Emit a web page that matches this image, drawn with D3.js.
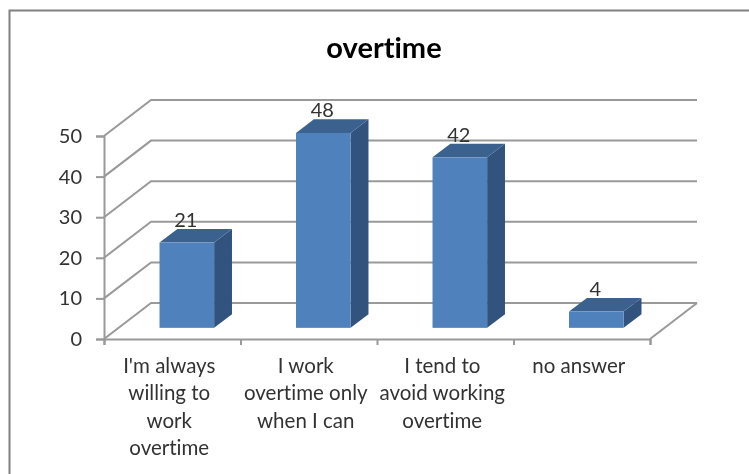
<!DOCTYPE html>
<html>
<head>
<meta charset="utf-8">
<script src="https://cdn.jsdelivr.net/npm/d3@7"></script>
<style>
  html, body { margin: 0; padding: 0; background: #fff; }
  svg { display: block; }
  text { font-family: Lato, "Noto Sans", sans-serif; fill: #333; font-variant-ligatures: none; }
</style>
</head>
<body>
<div id="chart"></div>
<script>
// Data
const categories = ["I'm always willing to work overtime", "I work overtime only when I can", "I tend to avoid working overtime", "no answer"];
const categoryLines = [
  ["I'm always", "willing to", "work", "overtime"],
  ["I work", "overtime only", "when I can"],
  ["I tend to", "avoid working", "overtime"],
  ["no answer"]
];
const values = [21, 48, 42, 4];
const yTicks = [0, 10, 20, 30, 40, 50];
const title = "overtime";

function draw() {
  // Dimensions
  const dimensions = {
    width: 749,
    height: 474,
    left: 104,
    right: 650,
    bottom: 339,
    top: 136,
    depthX: 47,
    depthY: -36,
    barDepth: 0.38
  };

  const svg = d3.select('#chart')
    .append("svg")
    .attr("width", dimensions.width)
    .attr("height", dimensions.height)

  svg.append("defs").append("filter")
    .attr("id", "soft")
    .append("feGaussianBlur")
    .attr("stdDeviation", 0.45)

  const ctr = svg.append("g").attr("filter", "url(#soft)")

  // Frame, open at the right and bottom like the cropped original
  ctr.append("path")
    .attr("d", `M9.5,${dimensions.height} V10.5 H${dimensions.width}`)
    .attr("fill", "none")
    .attr("stroke", "#808080")
    .attr("stroke-width", 2)

  // Scales
  const xScale = d3.scaleBand()
    .domain(categories)
    .range([dimensions.left, dimensions.right])
    .paddingInner(0.6)
    .paddingOuter(0.3)

  const yScale = d3.scaleLinear()
    .domain([0, 50])
    .range([dimensions.bottom, dimensions.top])

  // depth runs 0 at the front of the floor to 1 at the back wall
  const depthX = d3.scaleLinear().domain([0, 1]).range([0, dimensions.depthX])
  const depthY = d3.scaleLinear().domain([0, 1]).range([0, dimensions.depthY])

  const gridColor = "#999999"

  // Walls and floor
  ctr.append("g")
    .selectAll("path")
    .data(yTicks)
    .join("path")
    .attr("d", d => {
      const y = yScale(d)
      return `M${dimensions.left},${y} L${dimensions.left + depthX(1)},${y + depthY(1)} H${dimensions.right + depthX(1)}`
    })
    .attr("fill", "none")
    .attr("stroke", gridColor)
    .attr("stroke-width", 2)

  ctr.append("path")
    .attr("d", `M${dimensions.right},${dimensions.bottom} L${dimensions.right + depthX(1)},${dimensions.bottom + depthY(1)}`)
    .attr("stroke", gridColor)
    .attr("stroke-width", 2)

  // Axes
  const yAxis = d3.axisLeft(yScale)
    .tickValues(yTicks)
    .tickSize(8)
    .tickPadding(14)

  const yAxisGroup = ctr.append("g")
    .attr("transform", `translate(${dimensions.left}, 0)`)
    .call(yAxis)

  const xEdges = d3.scaleLinear()
    .domain([0, categories.length])
    .range([dimensions.left, dimensions.right])

  const xAxis = d3.axisBottom(xEdges)
    .ticks(categories.length)
    .tickSize(6)
    .tickFormat("")

  const xAxisGroup = ctr.append("g")
    .attr("transform", `translate(0, ${dimensions.bottom})`)
    .call(xAxis)

  ctr.selectAll(".domain, .tick line")
    .attr("stroke", gridColor)
    .attr("stroke-width", 2)

  yAxisGroup.selectAll("text")
    .attr("font-size", 20)
    .style("fill", "#333")

  // Bars
  const zBack = (1 - dimensions.barDepth) / 2 + dimensions.barDepth
  const zFront = (1 - dimensions.barDepth) / 2

  const px = (x, z) => x + depthX(z)
  const py = (v, z) => yScale(v) + depthY(z)

  const bars = ctr.append("g")
    .selectAll("g")
    .data(values.map((v, i) => ({ value: v, category: categories[i] })))
    .join("g")

  const points = ps => ps.map(p => p.join(",")).join(" ")

  bars.append("polygon") // side
    .attr("fill", "#30527e")
    .attr("points", d => {
      const x1 = xScale(d.category) + xScale.bandwidth()
      return points([
        [px(x1, zFront), py(0, zFront)],
        [px(x1, zBack), py(0, zBack)],
        [px(x1, zBack), py(d.value, zBack)],
        [px(x1, zFront), py(d.value, zFront)]
      ])
    })

  bars.append("polygon") // top
    .attr("fill", "#3b628f")
    .attr("points", d => {
      const x0 = xScale(d.category)
      const x1 = x0 + xScale.bandwidth()
      return points([
        [px(x0, zFront), py(d.value, zFront)],
        [px(x0, zBack), py(d.value, zBack)],
        [px(x1, zBack), py(d.value, zBack)],
        [px(x1, zFront), py(d.value, zFront)]
      ])
    })

  bars.append("rect") // front
    .attr("fill", "#4f81bd")
    .attr("x", d => px(xScale(d.category), zFront))
    .attr("y", d => py(d.value, zFront))
    .attr("width", xScale.bandwidth())
    .attr("height", d => yScale(0) - yScale(d.value))

  // Value labels
  bars.append("text")
    .attr("text-anchor", "middle")
    .attr("font-size", 20)
    .attr("x", d => px(xScale(d.category) + xScale.bandwidth() / 2, zFront) - 1)
    .attr("y", d => py(d.value, zBack) - 2)
    .text(d => d.value)

  // Category labels
  const lineHeight = 27.4

  ctr.append("g")
    .selectAll("text")
    .data(categories)
    .join("text")
    .attr("text-anchor", "middle")
    .attr("font-size", 20.5)
    .attr("y", 373)
    .each(function (d, i) {
      d3.select(this)
        .selectAll("tspan")
        .data(categoryLines[i])
        .join("tspan")
        .attr("x", xScale(d) + xScale.bandwidth() / 2 - 3)
        .attr("dy", (l, j) => j === 0 ? 0 : lineHeight)
        .text(l => l)
    })

  // Title
  ctr.append("text")
    .attr("x", 384)
    .attr("y", 58)
    .attr("text-anchor", "middle")
    .attr("font-size", 29)
    .attr("font-weight", "bold")
    .style("fill", "#000")
    .text(title)
}

draw();
</script>
</body>
</html>
